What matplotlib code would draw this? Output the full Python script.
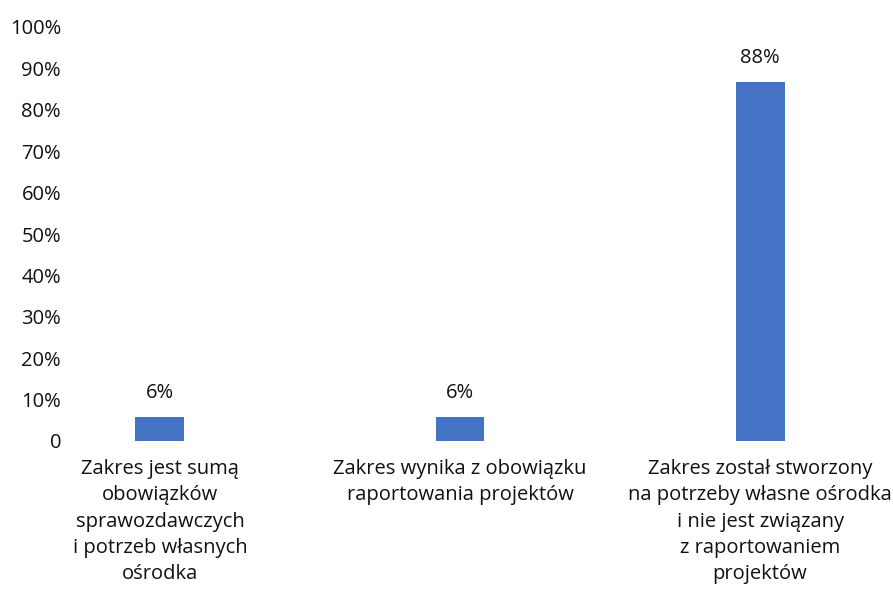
import matplotlib
matplotlib.use("Agg")
import matplotlib.pyplot as plt

categories = [
    "Zakres jest sumą\nobowiązków\nsprawozdawczych\ni potrzeb własnych\nośrodka",
    "Zakres wynika z obowiązku\nraportowania projektów",
    "Zakres został stworzony\nna potrzeby własne ośrodka\ni nie jest związany\nz raportowaniem\nprojektów",
]
values = [5.8, 5.8, 86.7]
value_labels = ["6%", "6%", "88%"]
yticks = [0, 10, 20, 30, 40, 50, 60, 70, 80, 90, 100]
ytick_labels = ["0", "10%", "20%", "30%", "40%", "50%", "60%", "70%", "80%", "90%", "100%"]

plt.rcParams['font.family'] = ['Open Sans', 'DejaVu Sans']

W, H = 893, 590
fig = plt.figure(figsize=(W/100, H/100), dpi=100)
left, right, top, bottom = 75, 893, 27, 441
ax = fig.add_axes([left/W, (H-bottom)/H, (right-left)/W, (bottom-top)/H])

fs = 14.5
x = list(range(len(categories)))
ax.bar(x, values, width=0.163, color="#4472C4")
for xi, v, lab in zip(x, values, value_labels):
    ax.annotate(lab, (xi, v), xytext=(0, 17.5), textcoords="offset points",
                ha="center", va="center", fontsize=fs, color="#111111")

ax.set_xlim(-0.283, 2.443)
ax.set_ylim(0, 100)
ax.set_yticks(yticks, ytick_labels, fontsize=fs, color="#111111")
ax.set_xticks(x, categories, fontsize=fs, color="#111111", linespacing=1.42)
ax.tick_params(axis="y", length=0, pad=10)
ax.tick_params(axis="x", length=0, pad=13)
for s in ax.spines.values():
    s.set_visible(False)

fig.savefig("out.png", dpi=100)
